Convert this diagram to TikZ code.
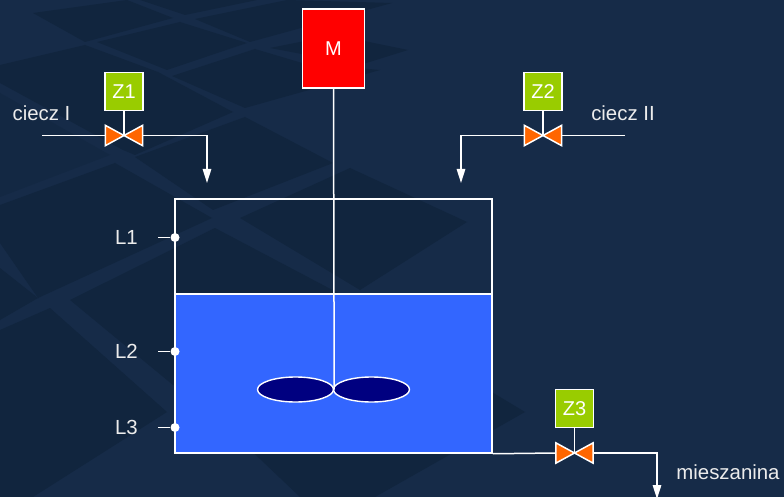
\documentclass[tikz,border=0pt]{standalone}
\usepackage{fontspec}
\setmainfont{Liberation Sans}
\usetikzlibrary{arrows.meta,shapes.geometric}
\definecolor{bglight}{HTML}{162B48}
\definecolor{bgmid}{HTML}{132843}
\definecolor{bgdark}{HTML}{11253E}
\definecolor{liquidblue}{HTML}{3366FF}
\definecolor{valveorange}{HTML}{FF6600}
\definecolor{boxgreen}{HTML}{99CC00}
\definecolor{bladeblue}{HTML}{000080}
\definecolor{labelgrey}{HTML}{ECECEC}
\tikzset{%
	label/.style    = {text=labelgrey, font=\fontsize{20.4}{24}\selectfont, inner sep=0pt},
	drivebox/.style = {draw=white, line width=1.5pt, fill=boxgreen, text=white, font=\fontsize{20}{24}\selectfont, minimum width=38pt, minimum height=38pt, inner sep=0pt},
	motorbox/.style = {draw=white, line width=1.5pt, fill=red, text=white, font=\fontsize{20}{24}\selectfont, minimum width=62pt, minimum height=79pt, inner sep=0pt},
	valve/.style    = {minimum width=37pt, minimum height=20pt, inner sep=0pt},
	sensor/.style   = {circle, fill=white, minimum size=9pt, inner sep=0pt},
	blade/.style    = {draw=white, line width=1.4pt, fill=bladeblue, ellipse, minimum width=76pt, minimum height=25pt, inner sep=0pt},
	pipe/.style     = {draw=white, line width=1.5pt},
	arrow/.style    = {pipe, -{Triangle[length=14pt,width=8.5pt]}},
	tile/.style     = {fill=bgdark},
}

\begin{document}
\begin{tikzpicture}[x=1pt,y=-1pt]
		\useasboundingbox (0,0) rectangle (784,497);
		% background
		\fill[bglight] (0,0) rectangle (784,497);
		\fill[tile] (33,13) -- (127,0) -- (173,18) -- (85,42) -- cycle;
		\fill[tile] (140,0) -- (257,0) -- (185,15) -- cycle;
		\fill[tile] (97,42) -- (180,22) -- (247,43) -- (167,70) -- cycle;
		\fill[tile] (195,19) -- (287,0) -- (392,3) -- (250,42) -- cycle;
		\fill[tile] (172,76) -- (255,49) -- (302,63) -- (380,70) -- (245,108) -- cycle;
		\fill[tile] (335,35) -- (408,50) -- (360,65) -- (270,48) -- cycle;
		\fill[tile] (0,65) -- (85,45) -- (158,72) -- (233,112) -- (135,155) -- (123,150) -- (0,83) -- cycle;
		\fill[bgmid] (0,93) -- (110,155) -- (0,197) -- cycle;
		\fill[tile] (135,157) -- (245,117) -- (333,163) -- (213,210) -- cycle;
		\fill[tile] (240,218) -- (350,168) -- (467,222) -- (360,290) -- cycle;
		\fill[tile] (0,205) -- (115,163) -- (212,218) -- (38,298) -- (0,243) -- cycle;
		\fill[tile] (70,300) -- (215,228) -- (340,294) -- (173,385) -- cycle;
		\fill[tile] (0,330) -- (50,308) -- (167,412) -- (33,497) -- (0,497) -- cycle;
		\fill[tile] (0,268) -- (38,298) -- (0,320) -- cycle;
		\fill[tile] (240,440) -- (300,497) -- (375,497) -- (525,412) -- (480,385) -- cycle;
		
		% tank
		\node[draw=white, line width=1.5pt, minimum width=317pt, minimum height=254pt, inner sep=0pt] (tank) at (333.5,326) {};
		\node[draw=white, line width=1.5pt, fill=liquidblue, minimum width=317pt, minimum height=159pt, inner sep=0pt] (liquid) at (333.5,373.5) {};
		
		% motor with stirrer
		\node[motorbox] (M) at (333.5,48.5) {M};
		\node[blade] (bladeL) at (295.5,389.5) {};
		\node[blade] (bladeR) at (371.5,389.5) {};
		\draw[pipe] (M.south) -- (bladeL.east);
		
		% valves
		\node[valve] (v1) at (124,135.5) {};
		\node[valve] (v2) at (543,135.5) {};
		\node[valve] (v3) at (574.5,453) {};
		\foreach \v in {v1,v2,v3} {
			\draw[white, line width=1.5pt, line join=miter, fill=valveorange] (\v.north west) -- (\v.south west) -- (\v.center) -- cycle;
			\draw[white, line width=1.5pt, line join=miter, fill=valveorange] (\v.north east) -- (\v.south east) -- (\v.center) -- cycle;
		}
		\node[drivebox] (Z1) at (124,91.5) {Z1};
		\node[drivebox] (Z2) at (543,91.5) {Z2};
		\node[drivebox] (Z3) at (574.5,408.5) {Z3};
		\foreach \n in {1,2,3} \draw[pipe] (Z\n.south) -- (v\n.center);
		
		% pipes
		\coordinate (in1) at (42,135.5);
		\coordinate (in2) at (625,135.5);
		\coordinate (end1) at (207,183);
		\coordinate (end2) at (461,183);
		\coordinate (end3) at (657,499);
		\draw[pipe] (in1) -- (v1.west);
		\draw[pipe] (in2) -- (v2.east);
		\draw[arrow] (v1.east) -| (end1);
		\draw[arrow] (v2.west) -| (end2);
		\draw[pipe] (tank.south east) -- (v3.west);
		\draw[arrow] (v3.east) -| (end3);
		
		% level sensors
		\foreach \n/\y in {1/237.5,2/351.5,3/427.5} {
			\node[sensor] (s\n) at (175,\y) {};
			\coordinate (t\n) at (158,\y);
			\node[label] (L\n) at (126.5,\y) {L\n};
			\draw[pipe] (t\n) -- (s\n);
		}
		
		\node[label] (liq1) at (41.5,113) {ciecz I};
		\node[label] (liq2) at (623,113) {ciecz II};
		\node[label] (mix) at (728,472) {mieszanina};
		\end{tikzpicture}
\end{document}
